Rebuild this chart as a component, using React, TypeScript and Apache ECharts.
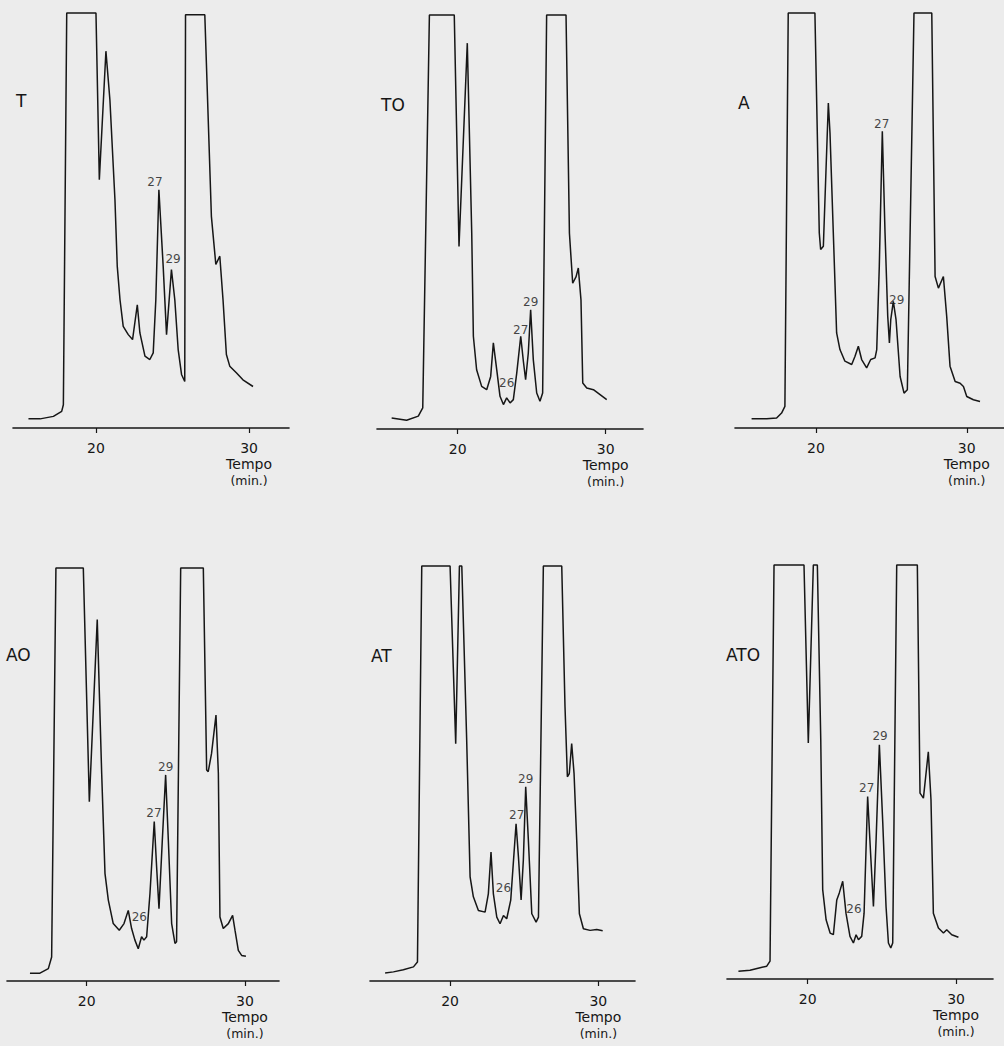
import React, { useEffect, useRef } from "react";
import * as echarts from "echarts";

// Tick values on the time axis (min)
const TICKS = [20, 30];
const PANEL_NAMES = ["T", "TO", "A", "AO", "AT", "ATO"];

// Traces: [time (min), detector response (% of full scale)]
const T_TRACE = [
  [15.59, 2.2], [16.35, 2.2], [17.22, 2.8], [17.76, 4.0], [17.87, 5.6], [18.09, 100], [20.0, 100],
  [20.22, 59.8], [20.65, 90.8], [20.91, 79.1], [21.24, 55.0], [21.39, 39.0], [21.57, 30.9], [21.78, 24.5],
  [22.11, 22.5], [22.39, 21.3], [22.7, 29.7], [22.87, 22.9], [23.2, 17.3], [23.52, 16.5], [23.74, 18.1],
  [23.91, 30.9], [24.11, 57.4], [24.39, 39.0], [24.61, 22.5], [24.93, 38.2], [25.15, 30.9], [25.37, 18.9],
  [25.59, 12.9], [25.8, 11.2], [25.85, 99.6], [27.11, 99.6], [27.54, 51.0], [27.83, 39.4], [28.09, 41.4],
  [28.3, 30.9], [28.52, 17.7], [28.74, 14.9], [29.17, 13.3], [29.6, 11.6], [30.26, 10.0],
];
const TO_TRACE = [
  [15.54, 2.65], [16.55, 2.1], [17.34, 3.1], [17.64, 5.1], [18.09, 100], [19.77, 100], [20.09, 44.1],
  [20.65, 93.2], [20.95, 47.3], [21.06, 22.4], [21.28, 14.3], [21.62, 10.3], [21.96, 9.5], [22.23, 12.7],
  [22.41, 20.8], [22.64, 14.3], [22.86, 7.9], [23.09, 5.9], [23.31, 7.5], [23.54, 6.3], [23.76, 7.1],
  [23.99, 13.5], [24.26, 22.4], [24.44, 16.3], [24.59, 11.9], [24.77, 18.3], [24.93, 28.8], [25.11, 16.7],
  [25.34, 8.7], [25.56, 6.7], [25.74, 8.7], [26.01, 100], [27.32, 100], [27.55, 47.3], [27.77, 35.2],
  [28.0, 36.8], [28.15, 38.9], [28.33, 31.2], [28.45, 11.1], [28.72, 9.9], [29.17, 9.5], [29.62, 8.3],
  [30.07, 7.1],
];
const A_TRACE = [
  [15.73, 2.2], [16.73, 2.2], [17.39, 2.4], [17.72, 3.6], [17.94, 5.2], [18.16, 100], [19.93, 100],
  [20.22, 47.0], [20.31, 43.0], [20.49, 43.8], [20.82, 78.3], [20.93, 71.1], [21.15, 47.0], [21.37, 22.9],
  [21.59, 18.9], [21.92, 16.1], [22.37, 15.3], [22.59, 17.3], [22.81, 19.7], [23.03, 16.5], [23.36, 14.5],
  [23.63, 16.5], [23.92, 16.9], [24.03, 18.9], [24.2, 39.0], [24.4, 71.5], [24.58, 47.0], [24.76, 26.9],
  [24.87, 20.5], [24.96, 26.1], [25.13, 30.5], [25.31, 26.1], [25.58, 12.4], [25.84, 8.4], [26.06, 9.2],
  [26.5, 100], [27.68, 100], [27.9, 36.5], [28.12, 33.7], [28.45, 36.5], [28.67, 26.9], [28.89, 14.9],
  [29.23, 11.2], [29.56, 10.8], [29.78, 10.0], [30.0, 7.6], [30.44, 6.8], [30.88, 6.4],
];
const AO_TRACE = [
  [16.42, 1.9], [17.05, 1.9], [17.58, 3.0], [17.79, 5.8], [18.06, 100], [19.79, 100], [20.17, 43.4],
  [20.67, 87.5], [20.95, 50.3], [21.16, 26.0], [21.37, 19.6], [21.68, 13.9], [22.06, 12.3], [22.36, 13.9],
  [22.63, 17.1], [22.84, 12.7], [23.05, 9.9], [23.26, 7.8], [23.47, 10.7], [23.62, 9.9], [23.79, 10.7],
  [24.0, 21.2], [24.27, 38.6], [24.42, 27.6], [24.57, 17.5], [24.78, 34.1], [24.99, 49.9], [25.16, 34.1],
  [25.37, 13.9], [25.58, 9.1], [25.68, 9.5], [25.94, 100], [27.37, 100], [27.58, 51.1], [27.68, 50.7],
  [27.89, 55.1], [28.17, 64.4], [28.32, 50.3], [28.42, 15.5], [28.63, 12.7], [28.95, 13.9], [29.22, 15.9],
  [29.37, 12.3], [29.58, 7.4], [29.79, 6.2], [30.06, 6.0],
];
const AT_TRACE = [
  [15.62, 1.9], [16.18, 2.2], [16.85, 2.7], [17.53, 3.4], [17.8, 4.6], [18.09, 100], [20.0, 100],
  [20.38, 57.2], [20.63, 100], [20.79, 100], [21.12, 58.0], [21.35, 25.1], [21.57, 20.3], [21.91, 17.0],
  [22.36, 16.6], [22.58, 21.0], [22.76, 31.1], [22.92, 21.0], [23.15, 15.4], [23.37, 13.8], [23.6, 15.8],
  [23.82, 15.0], [24.09, 19.5], [24.45, 37.9], [24.61, 29.9], [24.79, 19.5], [24.94, 29.1], [25.1, 46.8],
  [25.28, 33.9], [25.51, 16.2], [25.8, 14.2], [25.96, 15.4], [26.29, 100], [27.53, 100], [27.75, 66.1],
  [27.91, 49.2], [28.04, 50.0], [28.2, 57.2], [28.36, 50.0], [28.54, 33.9], [28.72, 16.2], [28.99, 12.6],
  [29.44, 12.2], [29.89, 12.4], [30.29, 12.1],
];
const ATO_TRACE = [
  [15.33, 1.9], [16.11, 2.1], [16.79, 2.7], [17.24, 3.1], [17.46, 4.3], [17.73, 100], [19.75, 100],
  [20.04, 57.0], [20.38, 100], [20.65, 100], [20.88, 57.8], [21.01, 21.6], [21.24, 14.3], [21.51, 11.1],
  [21.73, 10.7], [21.96, 19.1], [22.13, 20.8], [22.36, 23.6], [22.58, 15.9], [22.85, 10.3], [23.08, 8.7],
  [23.26, 10.7], [23.42, 9.5], [23.64, 10.3], [23.8, 15.9], [24.04, 44.1], [24.25, 29.6], [24.43, 17.5],
  [24.61, 33.6], [24.83, 56.6], [25.06, 37.7], [25.28, 17.5], [25.44, 8.7], [25.6, 7.5], [25.73, 8.7],
  [26.0, 100], [27.39, 100], [27.57, 44.9], [27.8, 43.7], [28.13, 54.9], [28.31, 43.3], [28.47, 15.9],
  [28.81, 12.3], [29.15, 11.1], [29.37, 11.9], [29.71, 10.7], [30.16, 10.1],
];

// Peak annotations: [time, response, label]
const T_PEAKS = [[23.85, 59.2, "27"], [25.04, 40.7, "29"]];
const TO_PEAKS = [[24.93, 30.6, "29"], [24.26, 24.0, "27"], [23.31, 11.1, "26"]];
const A_PEAKS = [[24.36, 73.3, "27"], [25.35, 30.9, "29"]];
const AO_PEAKS = [[24.99, 51.9, "29"], [24.25, 40.6, "27"], [23.33, 15.4, "26"]];
const AT_PEAKS = [[25.1, 48.6, "29"], [24.49, 40.0, "27"], [23.6, 22.3, "26"]];
const ATO_PEAKS = [[24.88, 58.7, "29"], [23.98, 46.1, "27"], [23.12, 16.9, "26"]];

const TRACES = [T_TRACE, TO_TRACE, A_TRACE, AO_TRACE, AT_TRACE, ATO_TRACE];
const PEAKS = [T_PEAKS, TO_PEAKS, A_PEAKS, AO_PEAKS, AT_PEAKS, ATO_PEAKS];
const X_MIN = [14.58, 14.55, 14.63, 14.97, 14.6, 14.56];
const X_MAX = [32.61, 32.52, 32.47, 32.15, 32.47, 32.49];

// Layout (pixels)
const LAYOUT = [
  { left: 13, top: 13, width: 276, height: 415, nameX: 16, nameY: 92 },
  { left: 377, top: 15, width: 266, height: 414, nameX: 381, nameY: 96 },
  { left: 735, top: 13, width: 269, height: 415, nameX: 738, nameY: 94 },
  { left: 7, top: 568, width: 272, height: 413, nameX: 6, nameY: 646 },
  { left: 370, top: 566, width: 265, height: 415, nameX: 371, nameY: 647 },
  { left: 727, top: 565, width: 266, height: 414, nameX: 726, nameY: 646 },
];

const INK = "#161616";
const FONT = "DejaVu Sans";

export default function App() {
  const ref = useRef<HTMLDivElement>(null);
  useEffect(() => {
    if (!ref.current) return;
    const chart = echarts.init(ref.current, null, { renderer: "svg" });
    const option = {
      animation: false,
      backgroundColor: "#ececec",
      grid: LAYOUT.map((l) => ({
        left: l.left,
        top: l.top,
        width: l.width,
        height: l.height,
        containLabel: false,
        outerBoundsMode: "none",
      })),
      xAxis: LAYOUT.map((_, i) => ({
        type: "value",
        gridIndex: i,
        min: X_MIN[i],
        max: X_MAX[i],
        axisLine: { show: true, onZero: false, lineStyle: { color: INK, width: 1.6 } },
        axisTick: { show: true, customValues: TICKS, length: 5, lineStyle: { color: INK, width: 1.2 } },
        splitLine: { show: false },
        axisLabel: {
          show: true,
          customValues: TICKS,
          margin: 12,
          fontSize: 14,
          lineHeight: 16,
          color: INK,
          fontFamily: FONT,
          formatter: (v: number) => (v === 30 ? "30\n{t|Tempo}\n{m|(min.)}" : String(v)),
          rich: {
            t: { fontSize: 14, lineHeight: 16, color: INK, fontFamily: FONT },
            m: { fontSize: 12.5, lineHeight: 16, color: INK, fontFamily: FONT },
          },
        },
      })),
      yAxis: LAYOUT.map((_, i) => ({
        type: "value",
        gridIndex: i,
        min: 0,
        max: 100,
        show: false,
      })),
      series: [
        ...TRACES.map((tr, i) => ({
          type: "line",
          name: PANEL_NAMES[i],
          xAxisIndex: i,
          yAxisIndex: i,
          data: tr,
          showSymbol: false,
          symbol: "none",
          clip: false,
          lineStyle: { color: INK, width: 1.5 },
        })),
        ...PEAKS.map((pk, i) => ({
          type: "scatter",
          name: PANEL_NAMES[i] + " peaks",
          xAxisIndex: i,
          yAxisIndex: i,
          symbolSize: 1,
          itemStyle: { color: "rgba(0,0,0,0)" },
          data: pk.map((p) => ({ value: [p[0], p[1]], name: p[2] })),
          label: {
            show: true,
            position: "inside",
            formatter: "{b}",
            fontSize: 12,
            color: INK,
            textBorderWidth: 0,
            fontFamily: FONT,
          },
        })),
      ],
      graphic: LAYOUT.map((l, i) => ({
        type: "text",
        left: l.nameX,
        top: l.nameY,
        style: { text: PANEL_NAMES[i], fontSize: 17, fill: INK, fontFamily: FONT },
      })),
    };
    chart.setOption(option as any);
    return () => chart.dispose();
  }, []);
  return (
    <div
      ref={ref}
      style={{ position: "absolute", left: 0, top: 0, width: 1004, height: 1046 }}
    />
  );
}
